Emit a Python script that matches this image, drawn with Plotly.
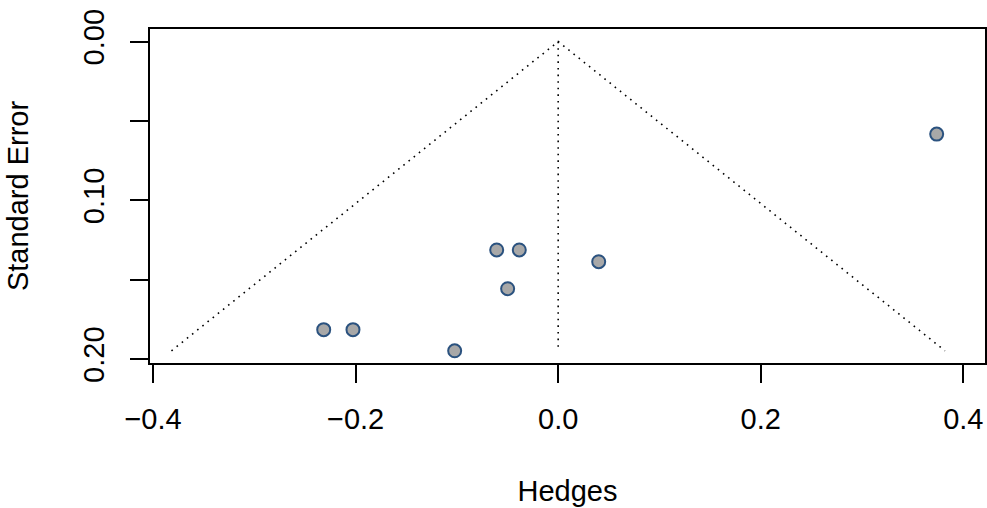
import plotly.graph_objects as go

# Study data: effect size (Hedges g) and standard error
hedges = [-0.2315, -0.2026, -0.1022, -0.0607, -0.0384, -0.0499, 0.0400, 0.3737]
std_err = [0.1815, 0.1815, 0.1948, 0.1313, 0.1313, 0.1557, 0.1387, 0.0583]

x_ticks = [-0.4, -0.2, 0.0, 0.2, 0.4]
x_tick_labels = ["\u22120.4", "\u22120.2", "0.0", "0.2", "0.4"]
y_ticks = [0.00, 0.05, 0.10, 0.15, 0.20]
y_tick_labels = ["0.00", "", "0.10", "", "0.20"]

se_max = max(std_err)
z = 1.96
funnel_x = [-z * se_max, 0.0, z * se_max]
funnel_y = [se_max, 0.0, se_max]
center_x = [0.0, 0.0]
center_y = [0.0, se_max]

FONT = "Liberation Sans, Arial, sans-serif"

fig = go.Figure()
fig.add_trace(go.Scatter(x=funnel_x, y=funnel_y, mode="lines",
                         line=dict(color="black", width=1.6, dash="1.6px,5px"),
                         hoverinfo="skip", showlegend=False))
fig.add_trace(go.Scatter(x=center_x, y=center_y, mode="lines",
                         line=dict(color="black", width=1.6, dash="1.6px,5px"),
                         hoverinfo="skip", showlegend=False))
fig.add_trace(go.Scatter(x=hedges, y=std_err, mode="markers",
                         marker=dict(size=13, color="#A8A8A8",
                                     line=dict(color="#2B527F", width=2)),
                         showlegend=False))

fig.update_layout(
    width=987, height=508,
    margin=dict(l=150, r=2, t=29, b=145),
    plot_bgcolor="white", paper_bgcolor="white",
    font=dict(family=FONT, size=29, color="black"),
)
fig.update_xaxes(
    range=[-0.403, 0.4214], tickvals=x_ticks, ticktext=x_tick_labels,
    showgrid=False, zeroline=False, automargin=False,
    showline=True, mirror=True, linecolor="black", linewidth=2,
    ticks="outside", ticklen=18, tickwidth=1.5, tickcolor="black",
    ticklabelstandoff=11,
    title=dict(text="Hedges", font=dict(size=29), standoff=47),
)
fig.update_yaxes(
    range=[0.2025, -0.0079], tickvals=y_ticks, ticktext=y_tick_labels,
    showgrid=False, zeroline=False, automargin=False,
    showline=True, mirror=True, linecolor="black", linewidth=2,
    ticks="outside", ticklen=18, tickwidth=1.5, tickcolor="black",
    tickangle=-90, ticklabelstandoff=14,
    title=dict(text="Standard Error", font=dict(size=29), standoff=41),
)

fig.write_html(
    "out.html",
    config={"displayModeBar": False},
    post_script="document.body.style.margin='0';document.body.style.overflow='hidden';",
)
